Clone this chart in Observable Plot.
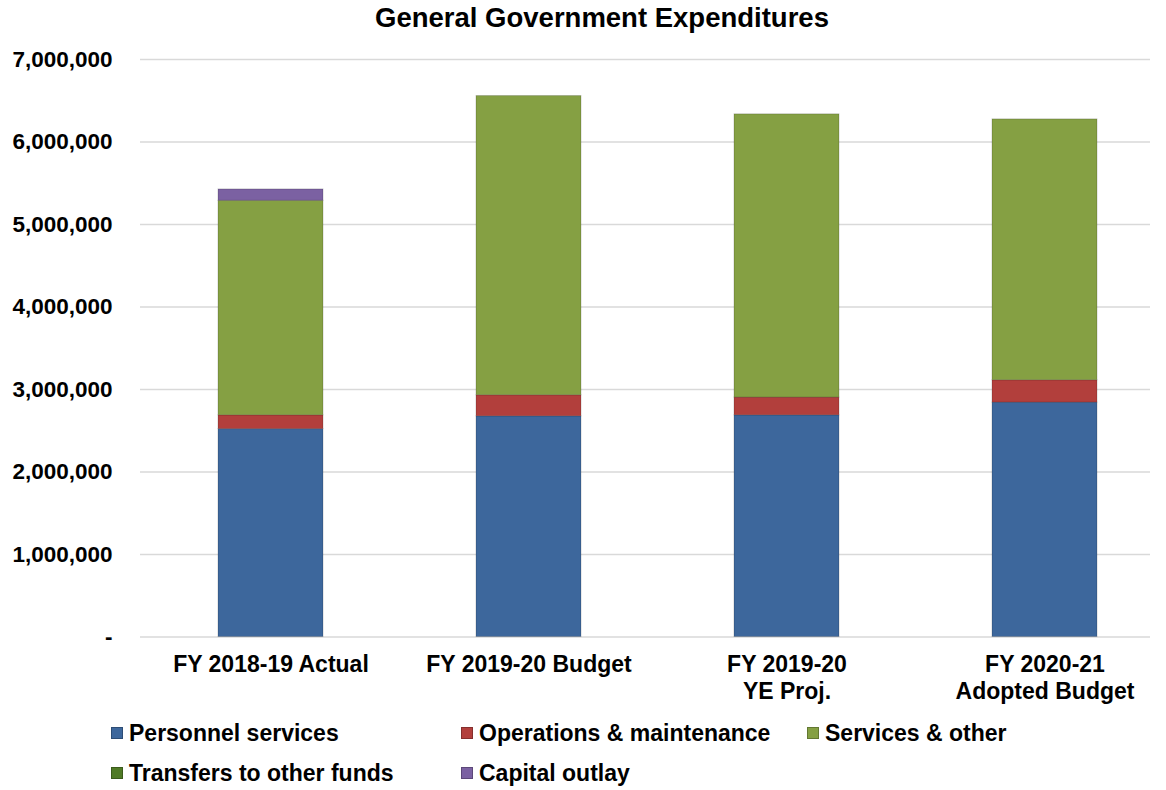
<!DOCTYPE html>
<html><head><meta charset="utf-8">
<script src="https://cdn.jsdelivr.net/npm/d3@7"></script>
<script src="https://cdn.jsdelivr.net/npm/@observablehq/plot@0.6"></script>
<style>
body{margin:0;background:#fff;font-family:"Liberation Sans",Arial,sans-serif;color:#000;}
#wrap{position:relative;width:1166px;height:790px;overflow:hidden;}
#title{position:absolute;left:38px;top:3px;width:1128px;text-align:center;font-size:27.5px;font-weight:bold;line-height:30px;}
#chart{position:absolute;left:0;top:36px;}
.leg{position:absolute;font-size:23px;font-weight:bold;line-height:26px;white-space:nowrap;display:flex;align-items:center;}
.sw{width:12px;height:12px;margin-right:6px;box-sizing:border-box;border:1px solid rgba(0,0,0,0.25);}
.xax text{font-size:23px;}
</style></head><body>
<div id="wrap"><div id="title">General Government Expenditures</div><div id="chart"></div><div id="legend"></div></div>
<script>
const categories = ["FY 2018-19 Actual", "FY 2019-20 Budget", "FY 2019-20 YE Proj.", "FY 2020-21 Adopted Budget"];
const tickLabels = ["FY 2018-19 Actual", "FY 2019-20 Budget", "FY 2019-20\nYE Proj.", "FY 2020-21\nAdopted Budget"];
const seriesNames = ["Personnel services", "Operations & maintenance", "Services & other", "Transfers to other funds", "Capital outlay"];
const seriesColors = ["#3d679c", "#b23f3c", "#85a043", "#4f7a26", "#7b61a2"];
const personnel = [2520000, 2675000, 2687000, 2841000];
const operations = [167000, 255000, 215000, 271000];
const services = [2600000, 3627000, 3433000, 3162000];
const transfers = [0, 0, 0, 0];
const capital = [138000, 0, 0, 0];
const yTicks = [0, 1000000, 2000000, 3000000, 4000000, 5000000, 6000000, 7000000];

const seriesValues = [personnel, operations, services, transfers, capital];
const data = [];
categories.forEach((c, i) => seriesNames.forEach((s, j) => data.push({category: c, series: s, value: seriesValues[j][i]})));

const chart = Plot.plot({
  width: 1166, height: 672,
  marginTop: 23, marginBottom: 71.5, marginLeft: 140, marginRight: 16,
  style: {fontFamily: "Liberation Sans, Arial, sans-serif", fontSize: "22.5px", fontWeight: "bold", color: "#000", background: "#fff", overflow: "visible"},
  x: {domain: categories, range: [140.5, 1174.5], paddingInner: 0.594, paddingOuter: 0.297, label: null},
  y: {domain: [0, 7000000], label: null},
  color: {domain: seriesNames, range: seriesColors},
  marks: [
    Plot.ruleY(yTicks, {stroke: "#d9d9d9", strokeWidth: 1.5}),
    Plot.barY(data, {x: "category", y: "value", fill: "series", order: seriesNames, stroke: "#000", strokeOpacity: 0.18, strokeWidth: 1}),
    Plot.axisY({ticks: yTicks, tickSize: 0, tickPadding: 28, tickFormat: d => d === 0 ? "-" : d3.format(",")(d), label: null}),
    Plot.axisX({tickSize: 0, tickPadding: 15, tickFormat: d => tickLabels[categories.indexOf(d)], label: null, lineHeight: 1.2, fontSize: 23})
  ]
});
document.getElementById("chart").appendChild(chart);

const legendX = [111, 461, 807];
const legendY = [733, 773];
const legend = document.getElementById("legend");
seriesNames.forEach((s, i) => {
  const el = document.createElement("div");
  el.className = "leg";
  el.style.left = legendX[i % 3] + "px";
  el.style.top = (legendY[Math.floor(i / 3)] - 13) + "px";
  const sw = document.createElement("div");
  sw.className = "sw";
  sw.style.background = seriesColors[i];
  el.appendChild(sw);
  el.appendChild(document.createTextNode(s));
  legend.appendChild(el);
});
</script>
</body></html>
